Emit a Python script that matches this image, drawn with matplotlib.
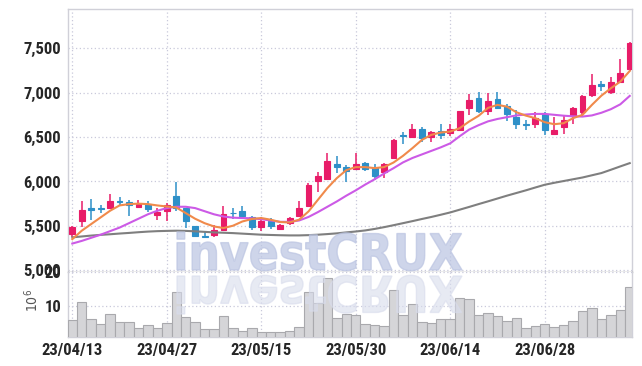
import matplotlib
matplotlib.use("Agg")
import numpy as np
import matplotlib.pyplot as plt
from matplotlib import font_manager
from matplotlib.textpath import TextPath
from matplotlib.patches import PathPatch
from matplotlib.font_manager import FontProperties
from matplotlib.transforms import Affine2D
from matplotlib.ticker import FuncFormatter

# trading days (2023)
dates = ["04/13", "04/14", "04/17", "04/18", "04/19", "04/20", "04/21", "04/24", "04/25", "04/26",
         "04/27", "04/28", "05/02", "05/03", "05/04", "05/08", "05/09", "05/10", "05/11", "05/12",
         "05/15", "05/16", "05/17", "05/18", "05/19", "05/22", "05/23", "05/24", "05/25", "05/26",
         "05/30", "05/31", "06/01", "06/02", "06/05", "06/07", "06/08", "06/09", "06/12", "06/13",
         "06/14", "06/15", "06/16", "06/19", "06/20", "06/21", "06/22", "06/23", "06/26", "06/27",
         "06/28", "06/29", "06/30", "07/03", "07/04", "07/05", "07/06", "07/07", "07/10", "07/11"]

opens = [5411, 5550, 5700, 5700, 5700, 5780, 5770, 5715, 5745, 5617,
         5662, 5840, 5700, 5500, 5385, 5400, 5456, 5648, 5662, 5600,
         5482, 5549, 5467, 5531, 5614, 5726, 6008, 6027, 6199, 6160,
         6140, 6214, 6151, 6112, 6263, 6520, 6507, 6593, 6500, 6571,
         6545, 6582, 6826, 6939, 6800, 6931, 6856, 6732, 6650, 6646,
         6759, 6537, 6619, 6743, 6788, 6976, 7097, 7006, 7119, 7265]
highs = [5495, 5780, 5800, 5740, 5860, 5830, 5790, 5795, 5775, 5700,
         5760, 5990, 5700, 5500, 5445, 5512, 5726, 5700, 5726, 5614,
         5599, 5588, 5520, 5600, 5775, 5980, 6112, 6320, 6289, 6190,
         6320, 6220, 6196, 6214, 6480, 6563, 6650, 6620, 6570, 6650,
         6650, 6800, 6987, 7013, 7000, 7006, 6875, 6807, 6695, 6781,
         6781, 6732, 6751, 6845, 6975, 7209, 7134, 7182, 7381, 7570]
lows = [5370, 5490, 5570, 5650, 5690, 5720, 5610, 5700, 5660, 5570,
        5555, 5670, 5475, 5370, 5369, 5370, 5450, 5577, 5588, 5456,
        5437, 5460, 5455, 5510, 5600, 5720, 5887, 6020, 6101, 5990,
        6124, 6120, 6018, 6040, 6250, 6424, 6488, 6440, 6440, 6477,
        6510, 6580, 6751, 6770, 6750, 6819, 6683, 6593, 6582, 6601,
        6526, 6526, 6534, 6650, 6730, 6957, 7021, 6984, 7108, 7250]
closes = [5486, 5680, 5680, 5690, 5780, 5770, 5740, 5745, 5695, 5655,
          5730, 5700, 5550, 5390, 5378, 5456, 5633, 5640, 5614, 5482,
          5557, 5493, 5512, 5588, 5700, 5963, 6064, 6233, 6162, 6115,
          6199, 6140, 6064, 6199, 6469, 6510, 6593, 6488, 6563, 6526,
          6590, 6796, 6920, 6800, 6909, 6833, 6759, 6646, 6642, 6714,
          6582, 6582, 6695, 6833, 6965, 7089, 7075, 7119, 7220, 7558]

# moving averages as drawn on the chart
ma5 = [5350, 5445, 5520, 5595, 5670, 5730, 5745, 5750, 5745, 5730,
       5718, 5707, 5644, 5580, 5530, 5493, 5475, 5501, 5549, 5577,
       5588, 5569, 5543, 5538, 5569, 5662, 5794, 5926, 6038, 6128,
       6162, 6162, 6151, 6162, 6214, 6289, 6376, 6469, 6526, 6552,
       6563, 6601, 6676, 6740, 6830, 6864, 6844, 6781, 6743, 6714,
       6669, 6646, 6657, 6714, 6751, 6864, 6968, 7051, 7126, 7246]
ma20 = [5300, 5330, 5365, 5400, 5440, 5480, 5530, 5580, 5630, 5670,
        5700, 5715, 5715, 5700, 5665, 5630, 5605, 5592, 5588, 5585,
        5575, 5560, 5545, 5545, 5560, 5600, 5655, 5715, 5775, 5840,
        5900, 5965, 6025, 6090, 6150, 6215, 6265, 6305, 6345, 6385,
        6430, 6510, 6585, 6635, 6678, 6705, 6725, 6745, 6755, 6762,
        6762, 6752, 6742, 6735, 6732, 6745, 6775, 6815, 6870, 6965]
ma60 = [5370, 5380, 5390, 5398, 5405, 5413, 5420, 5428, 5435, 5440,
        5443, 5445, 5443, 5438, 5432, 5426, 5422, 5418, 5412, 5406,
        5400, 5397, 5394, 5392, 5392, 5395, 5400, 5407, 5415, 5426,
        5436, 5448, 5465, 5485, 5507, 5530, 5553, 5577, 5600, 5625,
        5651, 5682, 5713, 5745, 5776, 5808, 5840, 5870, 5900, 5932,
        5963, 5985, 6005, 6025, 6045, 6070, 6095, 6132, 6170, 6207]

# volume, millions of shares
volume = [5.8, 11.0, 6.0, 4.6, 7.6, 5.1, 5.1, 3.35, 4.3, 3.35,
          4.8, 13.9, 6.6, 5.1, 3.05, 3.05, 7.0, 3.35, 2.65, 3.35,
          2.2, 2.2, 2.2, 2.55, 3.6, 13.9, 10.9, 18.2, 6.3, 7.5,
          7.4, 4.6, 4.3, 4.0, 14.6, 7.4, 10.5, 5.2, 4.8, 6.0,
          6.0, 12.2, 11.9, 7.4, 7.85, 7.0, 5.5, 6.3, 3.35, 4.0,
          4.6, 3.7, 4.3, 5.5, 8.4, 9.2, 6.1, 7.4, 8.7, 15.5]

price_ticks = [5000, 5500, 6000, 6500, 7000, 7500]
volume_ticks = [10, 20]

UP = "#e81c68"
DOWN = "#2e90c8"
GRID = "#c9c9db"

# pick a narrow face for the labels if one is around
names = {f.name for f in font_manager.fontManager.ttflist}
narrow = [n for n in ("Liberation Sans Narrow", "Roboto Condensed", "Open Sans Condensed",
                      "DejaVu Sans Condensed") if n in names]
label_font = narrow[0] if narrow else "DejaVu Sans"
plt.rcParams["font.family"] = [label_font, "DejaVu Sans"]
plt.rcParams["font.stretch"] = "condensed"

W, H = 642, 366
fig = plt.figure(figsize=(W / 100, H / 100), dpi=100)
ax = fig.add_axes([68 / W, 1 - 271.5 / H, 564 / W, 262.5 / H])
axv = fig.add_axes([68 / W, 1 - 337 / H, 564 / W, 65.5 / H], sharex=ax)

x = np.arange(len(dates))
o = np.array(opens)
c = np.array(closes)
colors = [UP if cc >= oo else DOWN for oo, cc in zip(o, c)]

ax.vlines(x, lows, highs, colors=colors, linewidth=1.1, zorder=3)
ax.bar(x, np.abs(c - o), bottom=np.minimum(o, c), width=0.62, color=colors,
       edgecolor=colors, linewidth=0.8, zorder=4)

ax.plot(x, ma60, color="#7f7f7f", lw=1.5, zorder=5)
ax.plot(x, ma20, color="#cc5ae6", lw=1.5, zorder=5)
ax.plot(x, ma5, color="#f08a4b", lw=1.5, zorder=5)

axv.bar(x, volume, width=1.0, color="#d5d5d8", edgecolor="#a9a9ad", linewidth=0.8, zorder=3)

ax.set_xlim(-0.455, 59.24)
ax.set_ylim(4985, 7945)
axv.set_ylim(0.8, 20.06)

tick_idx = x[::10]
ax.set_xticks(tick_idx)
axv.set_xticklabels(["23/" + dates[i] for i in tick_idx])
ax.set_yticks(price_ticks)
ax.yaxis.set_major_formatter(FuncFormatter(lambda v, p: f"{int(v):,}"))
axv.set_yticks(volume_ticks)

for a in (ax, axv):
    a.grid(True, color=GRID, linestyle=(0, (1, 2)), linewidth=0.9, zorder=0)
    a.tick_params(length=0, labelsize=12, labelcolor="#262626", pad=5)
    for s in a.spines.values():
        s.set_color("#d0d0d8")
        s.set_linewidth(1.0)
    a.set_axisbelow(True)
    for t in a.get_xticklabels() + a.get_yticklabels():
        t.set_fontweight("bold")
ax.tick_params(labelbottom=False)
ax.spines["bottom"].set_color("#a0a0a0")
axv.spines["top"].set_visible(False)
axv.tick_params(axis="x", pad=4)

fig.text(32 / W, 1 - 300 / H, r"$10^6$", rotation=90, ha="center", va="center",
         fontsize=10, color="#555555")

# watermark with its reflection
fp = FontProperties(family="DejaVu Sans", weight="bold", stretch="condensed")
tp = TextPath((0, 0), "investCRUX", size=1, prop=fp)
bb = tp.get_extents()
sx = (462 - 177) / bb.width
sy = 38 / bb.y1
x0 = 177 - bb.x0 * sx
fig.add_artist(PathPatch(tp, transform=Affine2D().scale(sx, sy).translate(x0, H - 270),
                         facecolor="#bcc5e2", edgecolor="#bcc5e2", linewidth=1.0,
                         alpha=0.72, zorder=10))
fig.add_artist(PathPatch(tp, transform=Affine2D().scale(sx, -sy).translate(x0, H - 276),
                         facecolor="#d8dcec", edgecolor="#d8dcec", linewidth=1.0,
                         alpha=0.6, zorder=10))

fig.savefig("out.png", dpi=100)
